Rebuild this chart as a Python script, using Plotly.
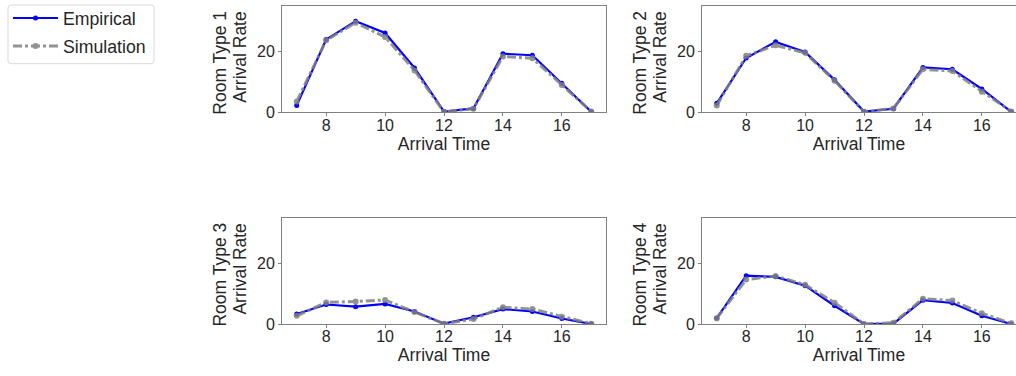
import plotly.graph_objects as go

hours = [7, 8, 9, 10, 11, 12, 13, 14, 15, 16, 17]
room_types = ["Room Type 1", "Room Type 2", "Room Type 3", "Room Type 4"]

empirical = [
    [2.3, 24.0, 30.0, 26.1, 14.6, 0.3, 1.3, 19.3, 18.8, 9.6, 0.2],
    [3.0, 17.9, 23.2, 19.9, 10.7, 0.3, 1.2, 14.8, 14.2, 7.7, 0.2],
    [3.4, 6.5, 5.8, 6.7, 4.2, 0.2, 2.3, 5.0, 4.2, 1.9, 0.1],
    [2.0, 16.0, 15.6, 12.7, 6.1, 0.1, 0.2, 7.9, 7.0, 2.8, 0.1],
]
simulation = [
    [3.6, 23.7, 29.5, 24.8, 13.8, 0.2, 1.2, 18.4, 17.8, 9.0, 0.3],
    [2.3, 18.6, 22.1, 19.6, 10.4, 0.2, 1.3, 14.2, 13.6, 6.8, 0.3],
    [2.8, 7.2, 7.5, 8.0, 4.0, 0.2, 1.7, 5.6, 5.0, 2.5, 0.2],
    [2.0, 14.7, 15.9, 13.0, 7.1, 0.1, 0.5, 8.4, 7.8, 3.6, 0.3],
]
x_ticks = [8, 10, 12, 14, 16]
y_ticks = [0, 20]

W, H = 1016, 376
FONT = "Liberation Sans, Arial, sans-serif"
TXT = "#262626"
FRAME = "#808080"

# pixel boxes (left, right, top, bottom)
boxes = [(282, 606, 4, 111), (702, 1016, 4, 111),
         (282, 606, 217, 324), (702, 1016, 217, 324)]
px_per_unit = 324 / 11.0

fig = go.Figure()
layout = {}
annotations = []
for i in range(4):
    xa = "x" if i == 0 else f"x{i+1}"
    ya = "y" if i == 0 else f"y{i+1}"
    l, r, t, b = boxes[i]
    fig.add_trace(go.Scatter(
        x=hours, y=empirical[i], xaxis=xa, yaxis=ya, mode="lines+markers",
        name="Empirical", showlegend=(i == 0), legendgroup="e",
        line=dict(color="#0000ff", width=2.2),
        marker=dict(color="#0000ff", size=5)))
    fig.add_trace(go.Scatter(
        x=hours, y=simulation[i], xaxis=xa, yaxis=ya, mode="lines+markers",
        name="Simulation", showlegend=(i == 0), legendgroup="s",
        opacity=0.85,
        line=dict(color="#808080", width=3, dash="dashdot"),
        marker=dict(color="#808080", size=6)))
    right_clipped = r >= W
    xmax = 6.5 + (r - l) / px_per_unit
    xkey = "xaxis" if i == 0 else f"xaxis{i+1}"
    ykey = "yaxis" if i == 0 else f"yaxis{i+1}"
    layout[xkey] = dict(
        domain=[l / W, r / W], anchor=ya, range=[6.5, xmax], automargin=False,
        tickvals=x_ticks, ticks="outside", ticklen=3, tickcolor=FRAME,
        ticklabelstandoff=-5,
        showgrid=False, zeroline=False, showline=True, linecolor=FRAME,
        linewidth=1, mirror=True,
        tickfont=dict(family=FONT, size=16, color=TXT),
        title=dict(text="Arrival Time", standoff=4,
                   font=dict(family=FONT, size=17.5, color=TXT)))
    layout[ykey] = dict(
        domain=[1 - b / H, 1 - t / H], anchor=xa, range=[0, 35], automargin=False,
        tickvals=y_ticks, ticks="outside", ticklen=3, tickcolor=FRAME,
        showgrid=False, zeroline=False, showline=True, linecolor=FRAME,
        linewidth=1, mirror=(not right_clipped),
        tickfont=dict(family=FONT, size=16, color=TXT))
    cy = (t + b) / 2.0
    annotations.append(dict(
        text=room_types[i], xref="paper", yref="paper",
        x=(l - 62) / W, y=1 - (cy + 3.5) / H, xanchor="center", yanchor="middle",
        textangle=-90, showarrow=False,
        font=dict(family=FONT, size=17.5, color=TXT)))
    annotations.append(dict(
        text="Arrival Rate", xref="paper", yref="paper",
        x=(l - 42) / W, y=1 - (cy - 1.5) / H, xanchor="center", yanchor="middle",
        textangle=-90, showarrow=False,
        font=dict(family=FONT, size=17.5, color=TXT)))

# legend frame (rounded box) drawn as a shape in paper coordinates
bx0, bx1, by0, by1, rad = 8, 154, 3, 62, 3
def px(xp):
    return xp / W
def py(yp):
    return 1 - yp / H
frame_path = (
    f"M {px(bx0 + rad)},{py(by0)} L {px(bx1 - rad)},{py(by0)} "
    f"Q {px(bx1)},{py(by0)} {px(bx1)},{py(by0 + rad)} "
    f"L {px(bx1)},{py(by1 - rad)} Q {px(bx1)},{py(by1)} {px(bx1 - rad)},{py(by1)} "
    f"L {px(bx0 + rad)},{py(by1)} Q {px(bx0)},{py(by1)} {px(bx0)},{py(by1 - rad)} "
    f"L {px(bx0)},{py(by0 + rad)} Q {px(bx0)},{py(by0)} {px(bx0 + rad)},{py(by0)} Z")

fig.update_layout(
    width=W, height=H, margin=dict(l=0, r=0, t=0, b=0),
    paper_bgcolor="white", plot_bgcolor="white",
    font=dict(family=FONT, size=17, color=TXT),
    legend=dict(x=8 / W, y=1 + 2 / H, xanchor="left", yanchor="top",
                bgcolor="rgba(0,0,0,0)", borderwidth=0,
                font=dict(family=FONT, size=17.7, color=TXT),
                itemwidth=45, tracegroupgap=2),
    shapes=[dict(type="path", path=frame_path, xref="paper", yref="paper",
                 line=dict(color="#d9d9d9", width=1), fillcolor="white",
                 layer="below")],
    annotations=annotations,
    **layout)

fig.write_html("out.html")
